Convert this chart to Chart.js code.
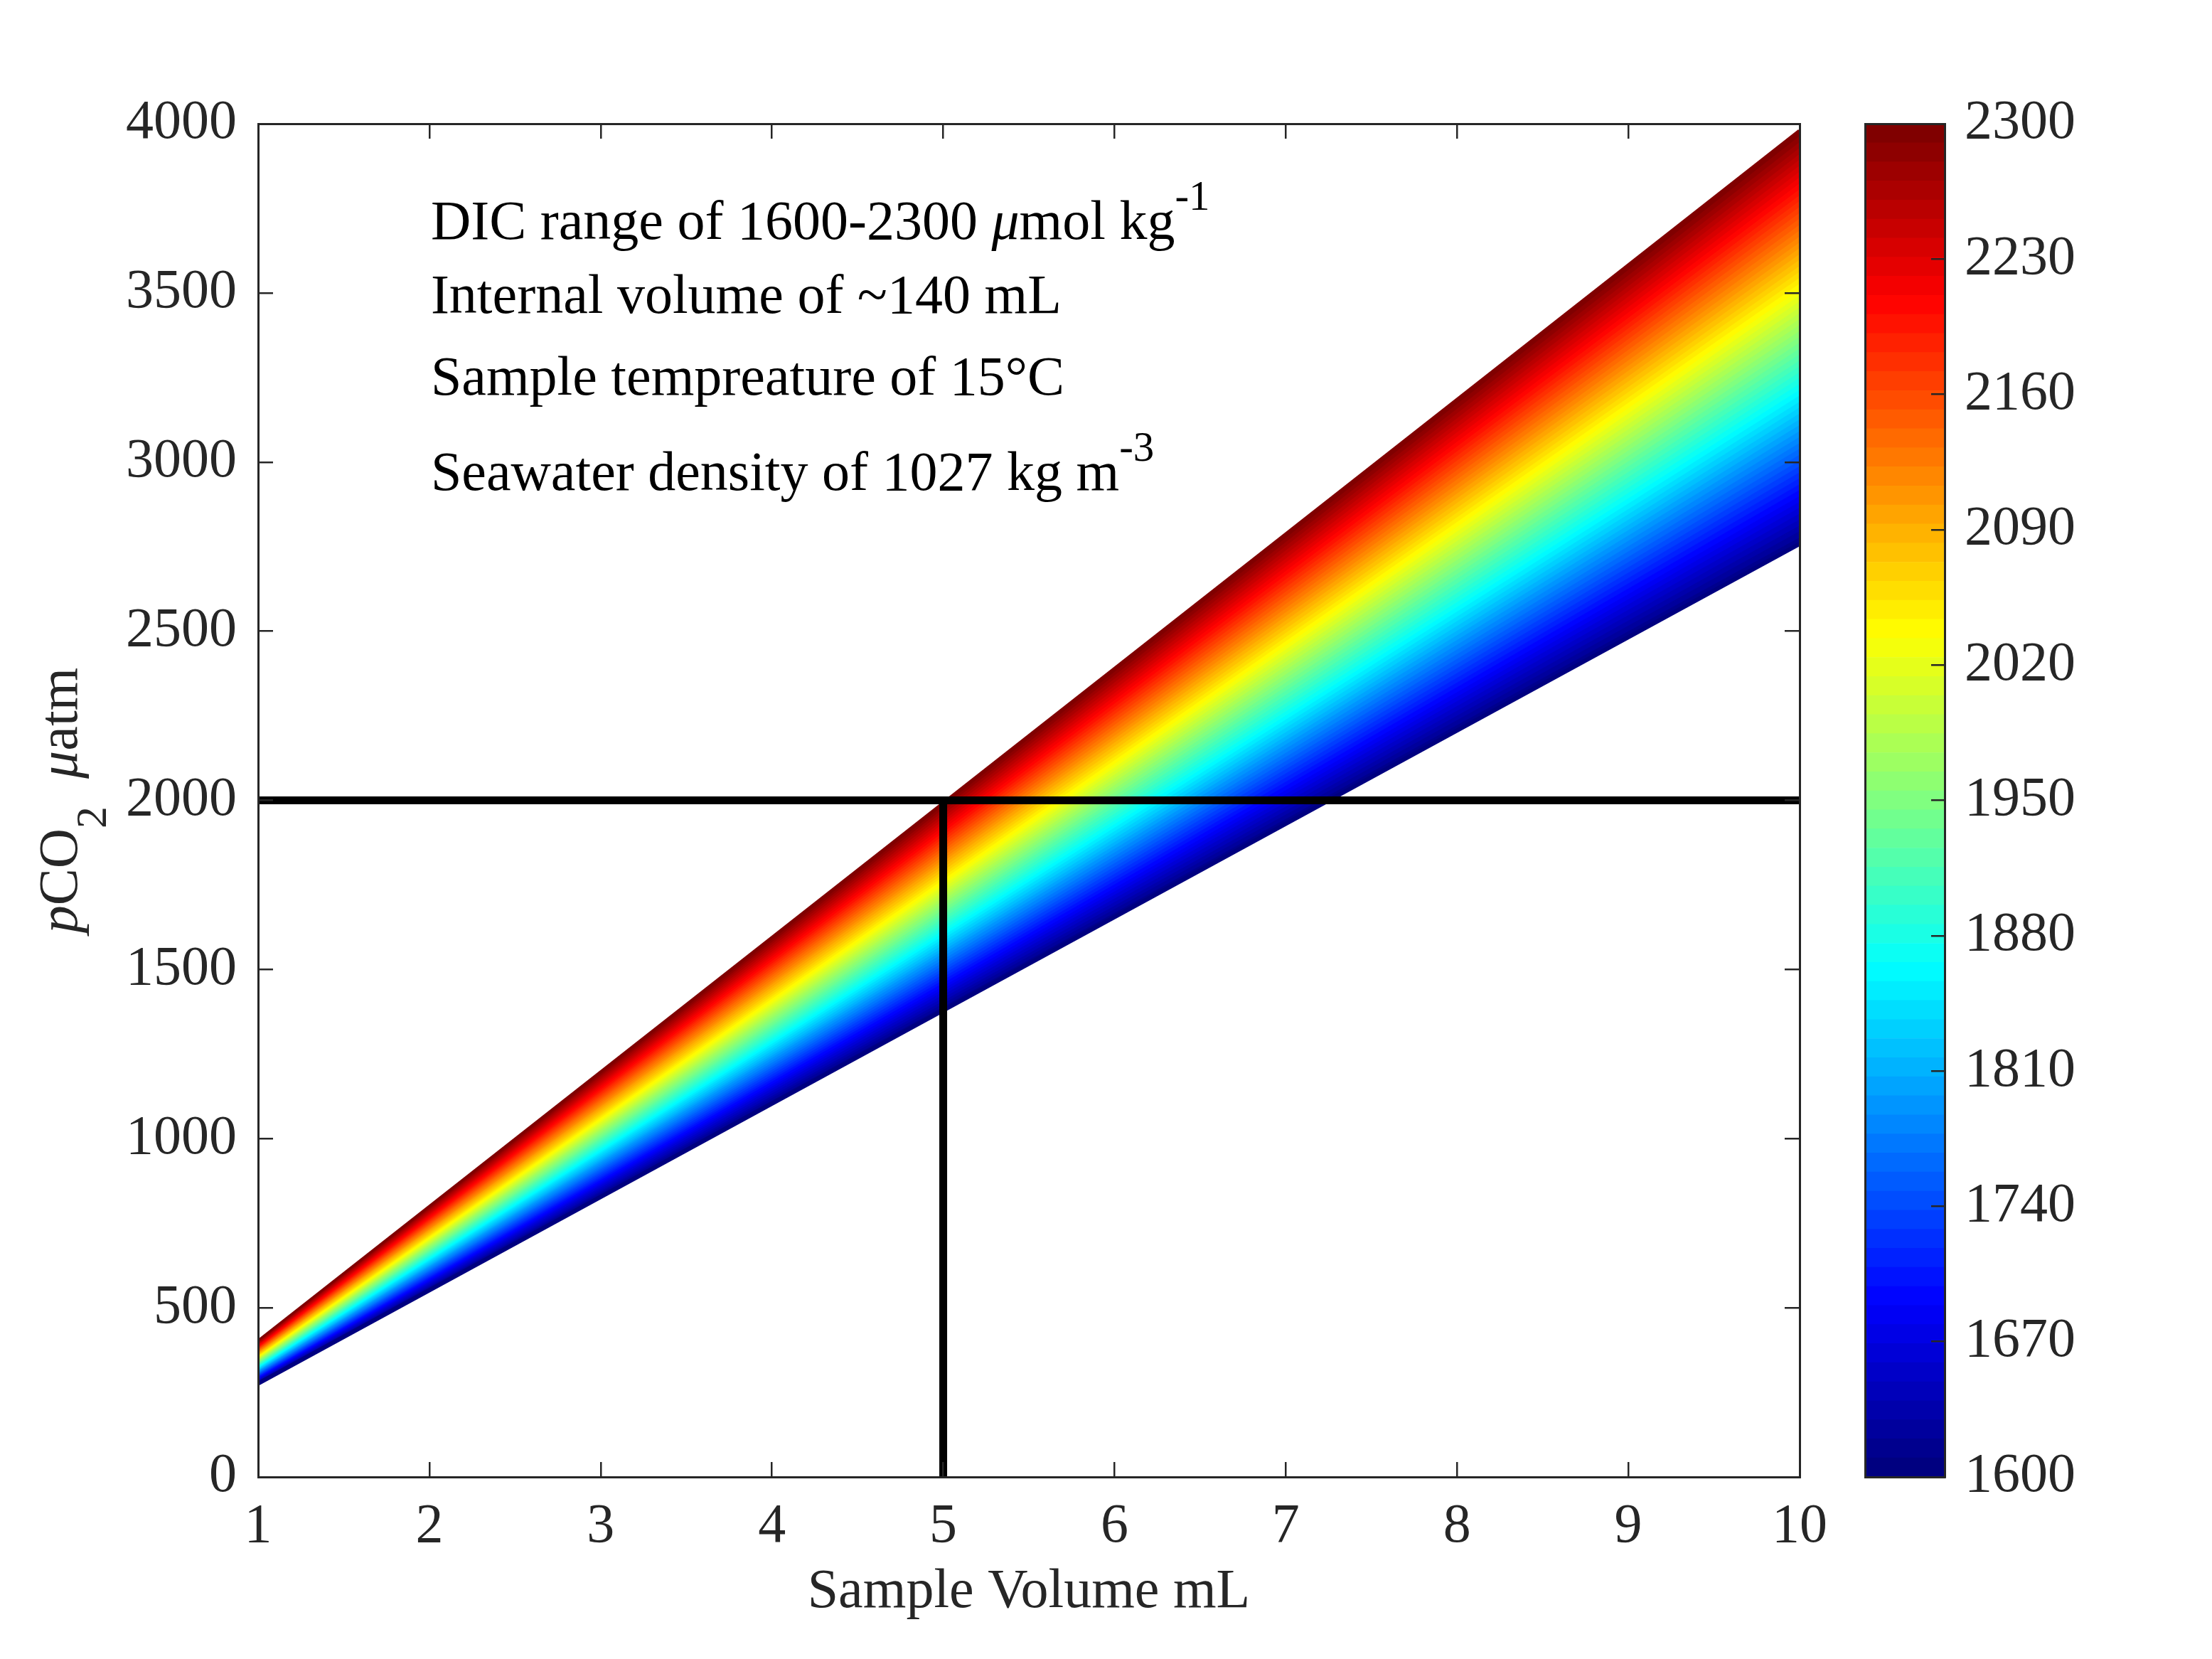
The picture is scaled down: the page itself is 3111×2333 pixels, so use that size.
<!DOCTYPE html>
<html><head><meta charset="utf-8">
<script src="https://cdn.jsdelivr.net/npm/chart.js@4.4.1/dist/chart.umd.min.js"></script>
<style>
html,body{margin:0;padding:0;background:#fff;}
#wrap{position:relative;width:3111px;height:2333px;background:#fff;}
canvas{position:absolute;left:0;top:0;}
</style></head><body>
<div id="wrap"><canvas id="main" width="3111" height="2333"></canvas><canvas id="cbar" width="3111" height="2333"></canvas></div>
<script>
// ---------- data ----------
const dicLevels = [1600,1610,1620,1630,1640,1650,1660,1670,1680,1690,
  1700,1710,1720,1730,1740,1750,1760,1770,1780,1790,
  1800,1810,1820,1830,1840,1850,1860,1870,1880,1890,
  1900,1910,1920,1930,1940,1950,1960,1970,1980,1990,
  2000,2010,2020,2030,2040,2050,2060,2070,2080,2090,
  2100,2110,2120,2130,2140,2150,2160,2170,2180,2190,
  2200,2210,2220,2230,2240,2250,2260,2270,2280,2290,
  2300];
const sampleVolumes = [1, 10];
const pco2AtMinVolume = [276,278,280,281,283,285,287,288,290,292,
  294,295,297,299,301,303,304,306,308,310,
  311,313,315,317,319,320,322,324,326,327,
  329,331,333,334,336,338,340,342,343,345,
  347,349,350,352,354,356,357,359,361,363,
  365,366,368,370,372,373,375,377,379,380,
  382,384,386,388,389,391,393,395,396,398,
  400];
const pco2AtMaxVolume = [2758,2775,2793,2810,2828,2845,2863,2880,2897,2915,
  2932,2950,2967,2985,3002,3019,3037,3054,3072,3089,
  3107,3124,3141,3159,3176,3194,3211,3229,3246,3263,
  3281,3298,3316,3333,3351,3368,3385,3403,3420,3438,
  3455,3473,3490,3507,3525,3542,3560,3577,3595,3612,
  3630,3647,3664,3682,3699,3717,3734,3752,3769,3786,
  3804,3821,3839,3856,3874,3891,3908,3926,3943,3961,
  3978];
const refHorizontalX = [1, 10];
const refHorizontalY = [2000, 2000];
const refVerticalX = [5, 5];
const refVerticalY = [0, 2000];
const xTicks = [1,2,3,4,5,6,7,8,9,10];
const yTicks = [0,500,1000,1500,2000,2500,3000,3500,4000];
const colorbarTicks = [1600,1670,1740,1810,1880,1950,2020,2090,2160,2230,2300];
const annotationX = 2;
const annotationY = [3660, 3440, 3200, 2918];
const annotationText = [
  [['DIC range of 1600-2300 ','n'],['μ','i'],['mol kg','n'],['-1','sup']],
  [['Internal volume of ~140 mL','n']],
  [['Sample tempreature of 15°C','n']],
  [['Seawater density of 1027 kg m','n'],['-3','sup']]
];
const xTitle = 'Sample Volume mL';
const yTitleParts = [['p','i'],['CO','n'],['2','sub'],['  ','n'],['μ','i'],['atm','n']];

// ---------- style ----------
const FONT = "'Liberation Serif','Times New Roman',serif";
const AX = '#262626';
const FS = 78, FS_SMALL = 59;
Chart.defaults.font.family = FONT;
Chart.defaults.color = AX;

function jet(t){
  const c = v => Math.max(0, Math.min(1, v));
  const r = c(1.5 - Math.abs(4*t - 3)), g = c(1.5 - Math.abs(4*t - 2)), b = c(1.5 - Math.abs(4*t - 1));
  return `rgb(${Math.round(r*255)},${Math.round(g*255)},${Math.round(b*255)})`;
}
const nLev = dicLevels.length;
const levelColors = dicLevels.map((d,i)=>jet(i/(nLev-1)));

function partFont(st){
  let size = FS, style = '', dy = 0;
  if (st === 'i') style = 'italic ';
  if (st === 'sup'){ size = FS_SMALL; dy = -41; }
  if (st === 'sub'){ size = FS_SMALL + 3; dy = 41; }
  return {font: `${style}${size}px ${FONT}`, dy};
}
function drawParts(ctx, parts, x, y){
  let cx = x;
  for (const [t, st] of parts){
    const f = partFont(st);
    ctx.font = f.font;
    ctx.fillText(t, cx, y + f.dy);
    cx += ctx.measureText(t).width;
  }
  return cx - x;
}
function measureParts(ctx, parts){
  let w = 0;
  for (const [t, st] of parts){
    ctx.font = partFont(st).font;
    w += ctx.measureText(t).width;
  }
  return w;
}

const textPlugin = {
  id: 'texts',
  afterDraw(chart){
    const ctx = chart.ctx, xs = chart.scales.x, ys = chart.scales.y;
    ctx.save();
    ctx.fillStyle = '#000';
    ctx.textBaseline = 'alphabetic';
    ctx.textAlign = 'left';
    annotationText.forEach((parts, i)=>{
      drawParts(ctx, parts, xs.getPixelForValue(annotationX) + 2, ys.getPixelForValue(annotationY[i]));
    });
    // y axis title (rotated)
    const ca = chart.chartArea;
    const w = measureParts(ctx, yTitleParts);
    ctx.fillStyle = AX;
    ctx.translate(ca.left - 255, (ca.top + ca.bottom)/2 + w/2);
    ctx.rotate(-Math.PI/2);
    drawParts(ctx, yTitleParts, 0, 0);
    ctx.restore();
  }
};

const plainNum = v => String(v);
const gridOpts = {drawOnChartArea:false, drawTicks:true, tickLength:-21, color:AX, lineWidth:2.5, z:1};
const borderOpts = {display:true, color:AX, width:3, z:1};

const fanDatasets = dicLevels.map((d,i)=>({
  label: 'DIC ' + d,
  data: sampleVolumes.map((v,k)=>({x:v, y:(k===0 ? pco2AtMinVolume[i] : pco2AtMaxVolume[i])})),
  borderColor: levelColors[i],
  backgroundColor: levelColors[i],
  borderWidth: (i===0 || i===nLev-1) ? 6 : 2,
  pointRadius: 0,
  fill: i===0 ? false : '-1',
  tension: 0,
  order: 1
}));
const refDatasets = [
  {label:'ref h', data: refHorizontalX.map((x,k)=>({x, y:refHorizontalY[k]})), borderColor:'#000', backgroundColor:'#000', borderWidth:11, pointRadius:0, fill:false, order:0},
  {label:'ref v', data: refVerticalX.map((x,k)=>({x, y:refVerticalY[k]})), borderColor:'#000', backgroundColor:'#000', borderWidth:11, pointRadius:0, fill:false, order:0}
];

new Chart(document.getElementById('main'), {
  type: 'line',
  data: {datasets: fanDatasets.concat(refDatasets)},
  options: {
    responsive:false, animation:false, devicePixelRatio:1,
    layout:{padding:0},
    plugins:{legend:{display:false}, tooltip:{enabled:false}},
    scales:{
      x:{type:'linear', position:'bottom', min:1, max:10,
        afterBuildTicks(s){ s.ticks = xTicks.map(v=>({value:v})); },
        ticks:{font:{size:FS}, color:AX, padding:45, maxRotation:0, autoSkip:false, callback:plainNum},
        grid:gridOpts, border:borderOpts,
        title:{display:true, text:xTitle, font:{size:FS}, color:AX, padding:{top:0, bottom:47}},
        afterFit(s){ s.height = 256; }},
      x2:{type:'linear', position:'top', min:1, max:10,
        afterBuildTicks(s){ s.ticks = xTicks.map(v=>({value:v})); },
        ticks:{display:false}, grid:gridOpts, border:borderOpts,
        afterFit(s){ s.height = 174; }},
      y:{type:'linear', position:'left', min:0, max:4000,
        afterBuildTicks(s){ s.ticks = yTicks.map(v=>({value:v})); },
        ticks:{font:{size:FS}, color:AX, padding:51, autoSkip:false, callback:plainNum},
        grid:gridOpts, border:borderOpts,
        afterFit(s){ s.width = 363; }},
      y2:{type:'linear', position:'right', min:0, max:4000,
        afterBuildTicks(s){ s.ticks = yTicks.map(v=>({value:v})); },
        ticks:{display:false}, grid:gridOpts, border:borderOpts,
        afterFit(s){ s.width = 580; }}
    }
  },
  plugins:[textPlugin]
});

// ---------- colorbar ----------
const cbMin = colorbarTicks[0], cbMax = colorbarTicks[colorbarTicks.length-1];
const bandStep = (cbMax - cbMin) / nLev;
const cbDatasets = dicLevels.map((d,i)=>({
  label: 'band ' + d,
  data: [[cbMin + i*bandStep, cbMin + (i+1)*bandStep]],
  backgroundColor: levelColors[i],
  borderWidth: 0,
  barPercentage: 1, categoryPercentage: 1, grouped: false
}));
new Chart(document.getElementById('cbar'), {
  type: 'bar',
  data: {labels:[''], datasets: cbDatasets},
  options: {
    responsive:false, animation:false, devicePixelRatio:1,
    layout:{padding:{left:2623, top:174, bottom:256, right:0}},
    plugins:{legend:{display:false}, tooltip:{enabled:false}},
    scales:{
      x:{position:'bottom', ticks:{display:false}, grid:{display:false}, border:borderOpts, afterFit(s){ s.height = 0; }},
      x2:{type:'linear', position:'top', min:0, max:1, ticks:{display:false}, grid:{display:false}, border:borderOpts, afterFit(s){ s.height = 0; }},
      y:{type:'linear', position:'right', min:cbMin, max:cbMax,
        afterBuildTicks(s){ s.ticks = colorbarTicks.map(v=>({value:v})); },
        ticks:{font:{size:FS}, color:AX, padding:47, autoSkip:false, callback:plainNum},
        grid:{drawOnChartArea:false, drawTicks:true, tickLength:-19, color:AX, lineWidth:2.5, z:1},
        border:borderOpts,
        afterFit(s){ s.width = 376; }},
      y2:{type:'linear', position:'left', min:cbMin, max:cbMax, ticks:{display:false}, grid:{display:false}, border:borderOpts, afterFit(s){ s.width = 0; }}
    }
  }
});
</script>
</body></html>
